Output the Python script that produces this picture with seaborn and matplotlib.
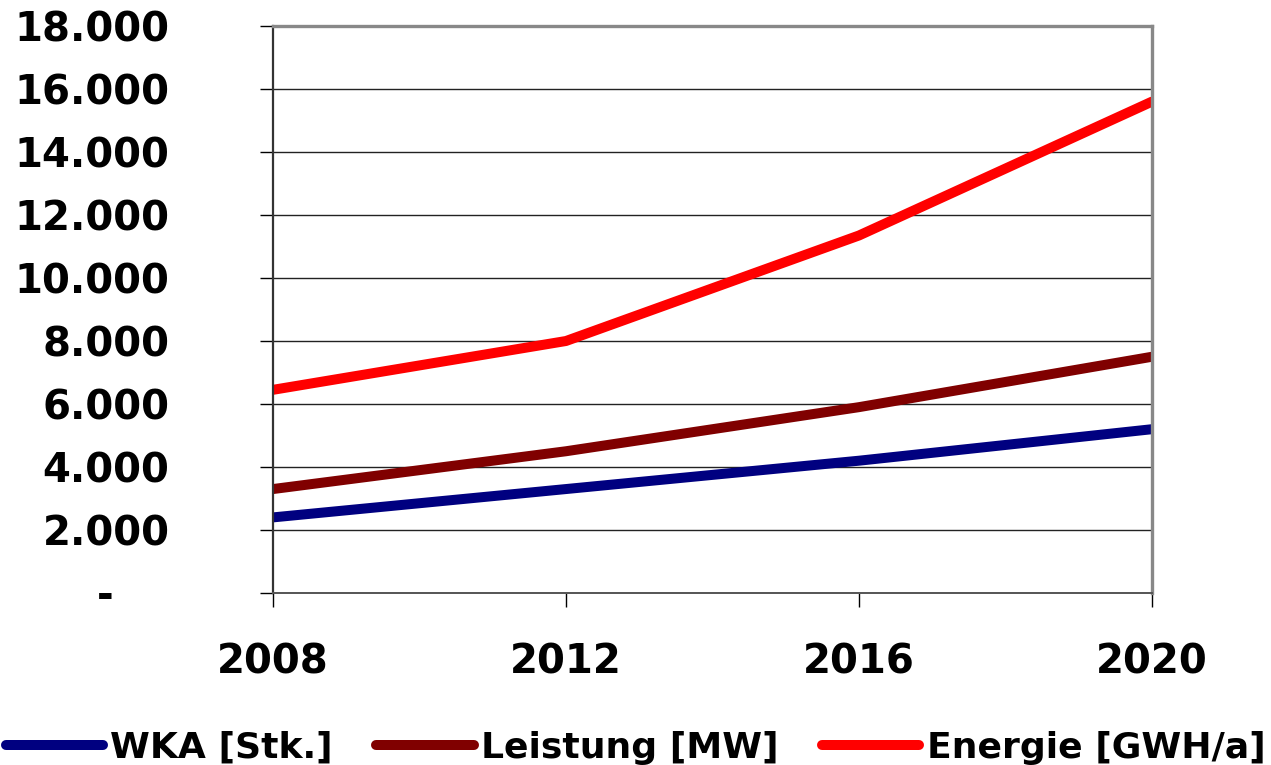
import numpy as np
import pandas as pd
import seaborn as sns
from matplotlib import pyplot as plt
from matplotlib.ticker import FuncFormatter

years = [2008, 2012, 2016, 2020]
wka = [2400, 3300, 4200, 5200]
leistung = [3300, 4500, 5900, 7500]
energie = [6450, 8000, 11350, 15600]
series_names = ['WKA [Stk.]', 'Leistung [MW]', 'Energie [GWH/a]']
colors = ['#000080', '#800000', '#ff0000']

df = pd.DataFrame({
    'Jahr': years * 3,
    'Wert': wka + leistung + energie,
    'Reihe': np.repeat(series_names, len(years)),
})

sns.set_style('white')
plt.rcParams['font.family'] = ['DejaVu Sans']
plt.rcParams['font.weight'] = 'bold'
plt.rcParams['text.color'] = 'black'
plt.rcParams['xtick.color'] = 'black'
plt.rcParams['ytick.color'] = 'black'

fig = plt.figure(figsize=(12.71, 7.65), dpi=100)
ax = fig.add_axes([273 / 1271, 1 - 593 / 765, (1152 - 273) / 1271, (593 - 26) / 765])

sns.lineplot(data=df, x='Jahr', y='Wert', hue='Reihe', hue_order=series_names,
             palette=colors, lw=7.2, solid_capstyle='round', legend=False, ax=ax)

ax.set(xlim=(2008, 2020), ylim=(0, 18000), xlabel='', ylabel='')
ax.set_xticks(years)
ax.set_yticks(range(0, 18001, 2000))
ax.yaxis.set_major_formatter(FuncFormatter(
    lambda v, p: '-    ' if v == 0 else f'{int(v):,}'.replace(',', '.')))
ax.grid(axis='y', color='#222222', lw=1.0)
ax.grid(axis='x', visible=False)
ax.tick_params(axis='y', direction='out', length=9.5, width=1, colors='black',
               pad=65, labelsize=29, left=True)
ax.tick_params(axis='x', direction='out', length=10, width=1, colors='black',
               pad=26, labelsize=29, bottom=True)
for lab in ax.get_xticklabels() + ax.get_yticklabels():
    lab.set_fontweight('bold')

ax.spines['left'].set(color='#333333', lw=1.6)
ax.spines['bottom'].set(color='#555555', lw=1.4)
ax.spines['top'].set(color='#888888', lw=2.4)
ax.spines['right'].set(color='#888888', lw=2.4)

handles = [plt.Line2D([], [], color=c, lw=7.2, solid_capstyle='round') for c in colors]
fig.legend(handles, series_names, loc='lower center', bbox_to_anchor=(0.5, -0.042),
           ncol=3, frameon=False, handlelength=2.7, handletextpad=0.2,
           columnspacing=1.2, prop={'size': 26, 'weight': 'bold'}, labelcolor='black')

fig.savefig('out.png', dpi=100)
